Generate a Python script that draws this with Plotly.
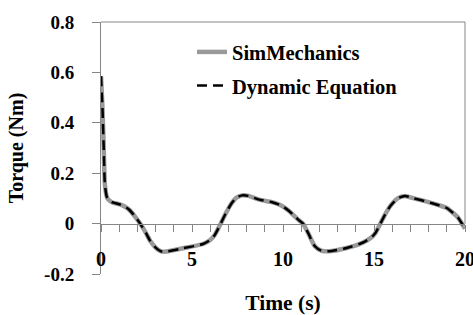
import plotly.graph_objects as go

# Data
time_s = [0, 0.08, 0.15, 0.22, 0.35, 0.6, 1.0, 1.3, 1.55, 1.85, 2.15, 2.45, 2.7, 3.0,
          3.3, 3.6, 4.5, 5.6, 6.0, 6.25, 6.55, 6.85, 7.15, 7.45, 7.75, 8.1, 8.7, 9.4,
          9.9, 10.3, 10.6, 10.85, 11.1, 11.4, 11.75, 12.1, 12.5, 13.5, 14.4, 14.9,
          15.1, 15.35, 15.6, 15.9, 16.3, 16.7, 17.2, 17.9, 18.6, 19.0, 19.3, 19.6, 20.0]
torque_sim = [0.585, 0.46, 0.30, 0.15, 0.10, 0.085, 0.077, 0.068, 0.055, 0.030, 0.000,
              -0.035, -0.068, -0.095, -0.110, -0.111, -0.098, -0.081, -0.065, -0.045,
              -0.004, 0.040, 0.078, 0.103, 0.112, 0.110, 0.095, 0.085, 0.072, 0.052,
              0.032, 0.015, 0.000, -0.040, -0.090, -0.107, -0.110, -0.097, -0.075,
              -0.052, -0.035, 0.000, 0.035, 0.070, 0.100, 0.110, 0.100, 0.087, 0.072,
              0.062, 0.045, 0.025, -0.020]
torque_dyn = list(torque_sim)

x_ticks = [0, 5, 10, 15, 20]
x_tick_text = ["0", "5", "10", "15", "20"]
y_ticks = [-0.2, 0, 0.2, 0.4, 0.6, 0.8]
y_tick_text = ["-0.2", "0", "0.2", "0.4", "0.6", "0.8"]

FONT = "Times New Roman, Liberation Serif, DejaVu Serif, serif"
AXIS_COLOR = "#868686"

fig = go.Figure()
fig.add_trace(go.Scatter(
    x=time_s, y=torque_sim, mode="lines", name="<b>SimMechanics</b>",
    line=dict(color="#999999", width=4.5, shape="spline", smoothing=0.6),
    legendgroup="a"))
fig.add_trace(go.Scatter(
    x=time_s, y=torque_dyn, mode="lines", name="<b>Dynamic Equation</b>",
    line=dict(color="#000000", width=2.5, dash="10px,6px", shape="spline", smoothing=0.6),
    legendgroup="b"))

fig.update_layout(
    width=473, height=315,
    margin=dict(l=101, r=8, t=22, b=41, autoexpand=False),
    paper_bgcolor="white", plot_bgcolor="white",
    font=dict(family=FONT, color="black", size=19),
    showlegend=True,
    legend=dict(x=0.25, y=0.96, xanchor="left", yanchor="top",
                bgcolor="rgba(0,0,0,0)", tracegroupgap=4,
                font=dict(family=FONT, size=20.5)),
    xaxis=dict(range=[0, 20], anchor="free", position=0.2, automargin=False,
               showline=True, linecolor=AXIS_COLOR, linewidth=1,
               showgrid=False, zeroline=False,
               ticks="outside", ticklen=7, tickcolor=AXIS_COLOR,
               tickvals=x_ticks, ticktext=["<b>%s</b>" % s for s in x_tick_text],
               ticklabelstandoff=10, ticklabeloverflow="allow",
               tickfont=dict(family=FONT, size=20),
               minor=dict(dtick=1, ticks="outside", ticklen=7, tickcolor=AXIS_COLOR),
               title=dict(text="<b>Time (s)</b>", standoff=26,
                          font=dict(family=FONT, size=21.5))),
    yaxis=dict(range=[-0.2, 0.8], automargin=False,
               showline=True, linecolor=AXIS_COLOR, linewidth=1,
               showgrid=False, zeroline=False,
               ticks="outside", ticklen=8, tickcolor=AXIS_COLOR,
               tickvals=y_ticks, ticktext=["<b>%s</b>" % s for s in y_tick_text],
               ticklabelstandoff=14,
               tickfont=dict(family=FONT, size=19),
               title=dict(text="<b>Torque (Nm)</b>", standoff=15,
                          font=dict(family=FONT, size=20))),
    shapes=[
        dict(type="line", xref="paper", yref="paper", x0=0, x1=1, y0=1, y1=1,
             line=dict(color=AXIS_COLOR, width=1)),
        dict(type="line", xref="paper", yref="paper", x0=1, x1=1, y0=0.2, y1=1,
             line=dict(color=AXIS_COLOR, width=1)),
    ],
)

fig.write_html("out.html",
               config={"displayModeBar": False},
               post_script="document.body.style.margin='0px';document.body.style.padding='0px';")
